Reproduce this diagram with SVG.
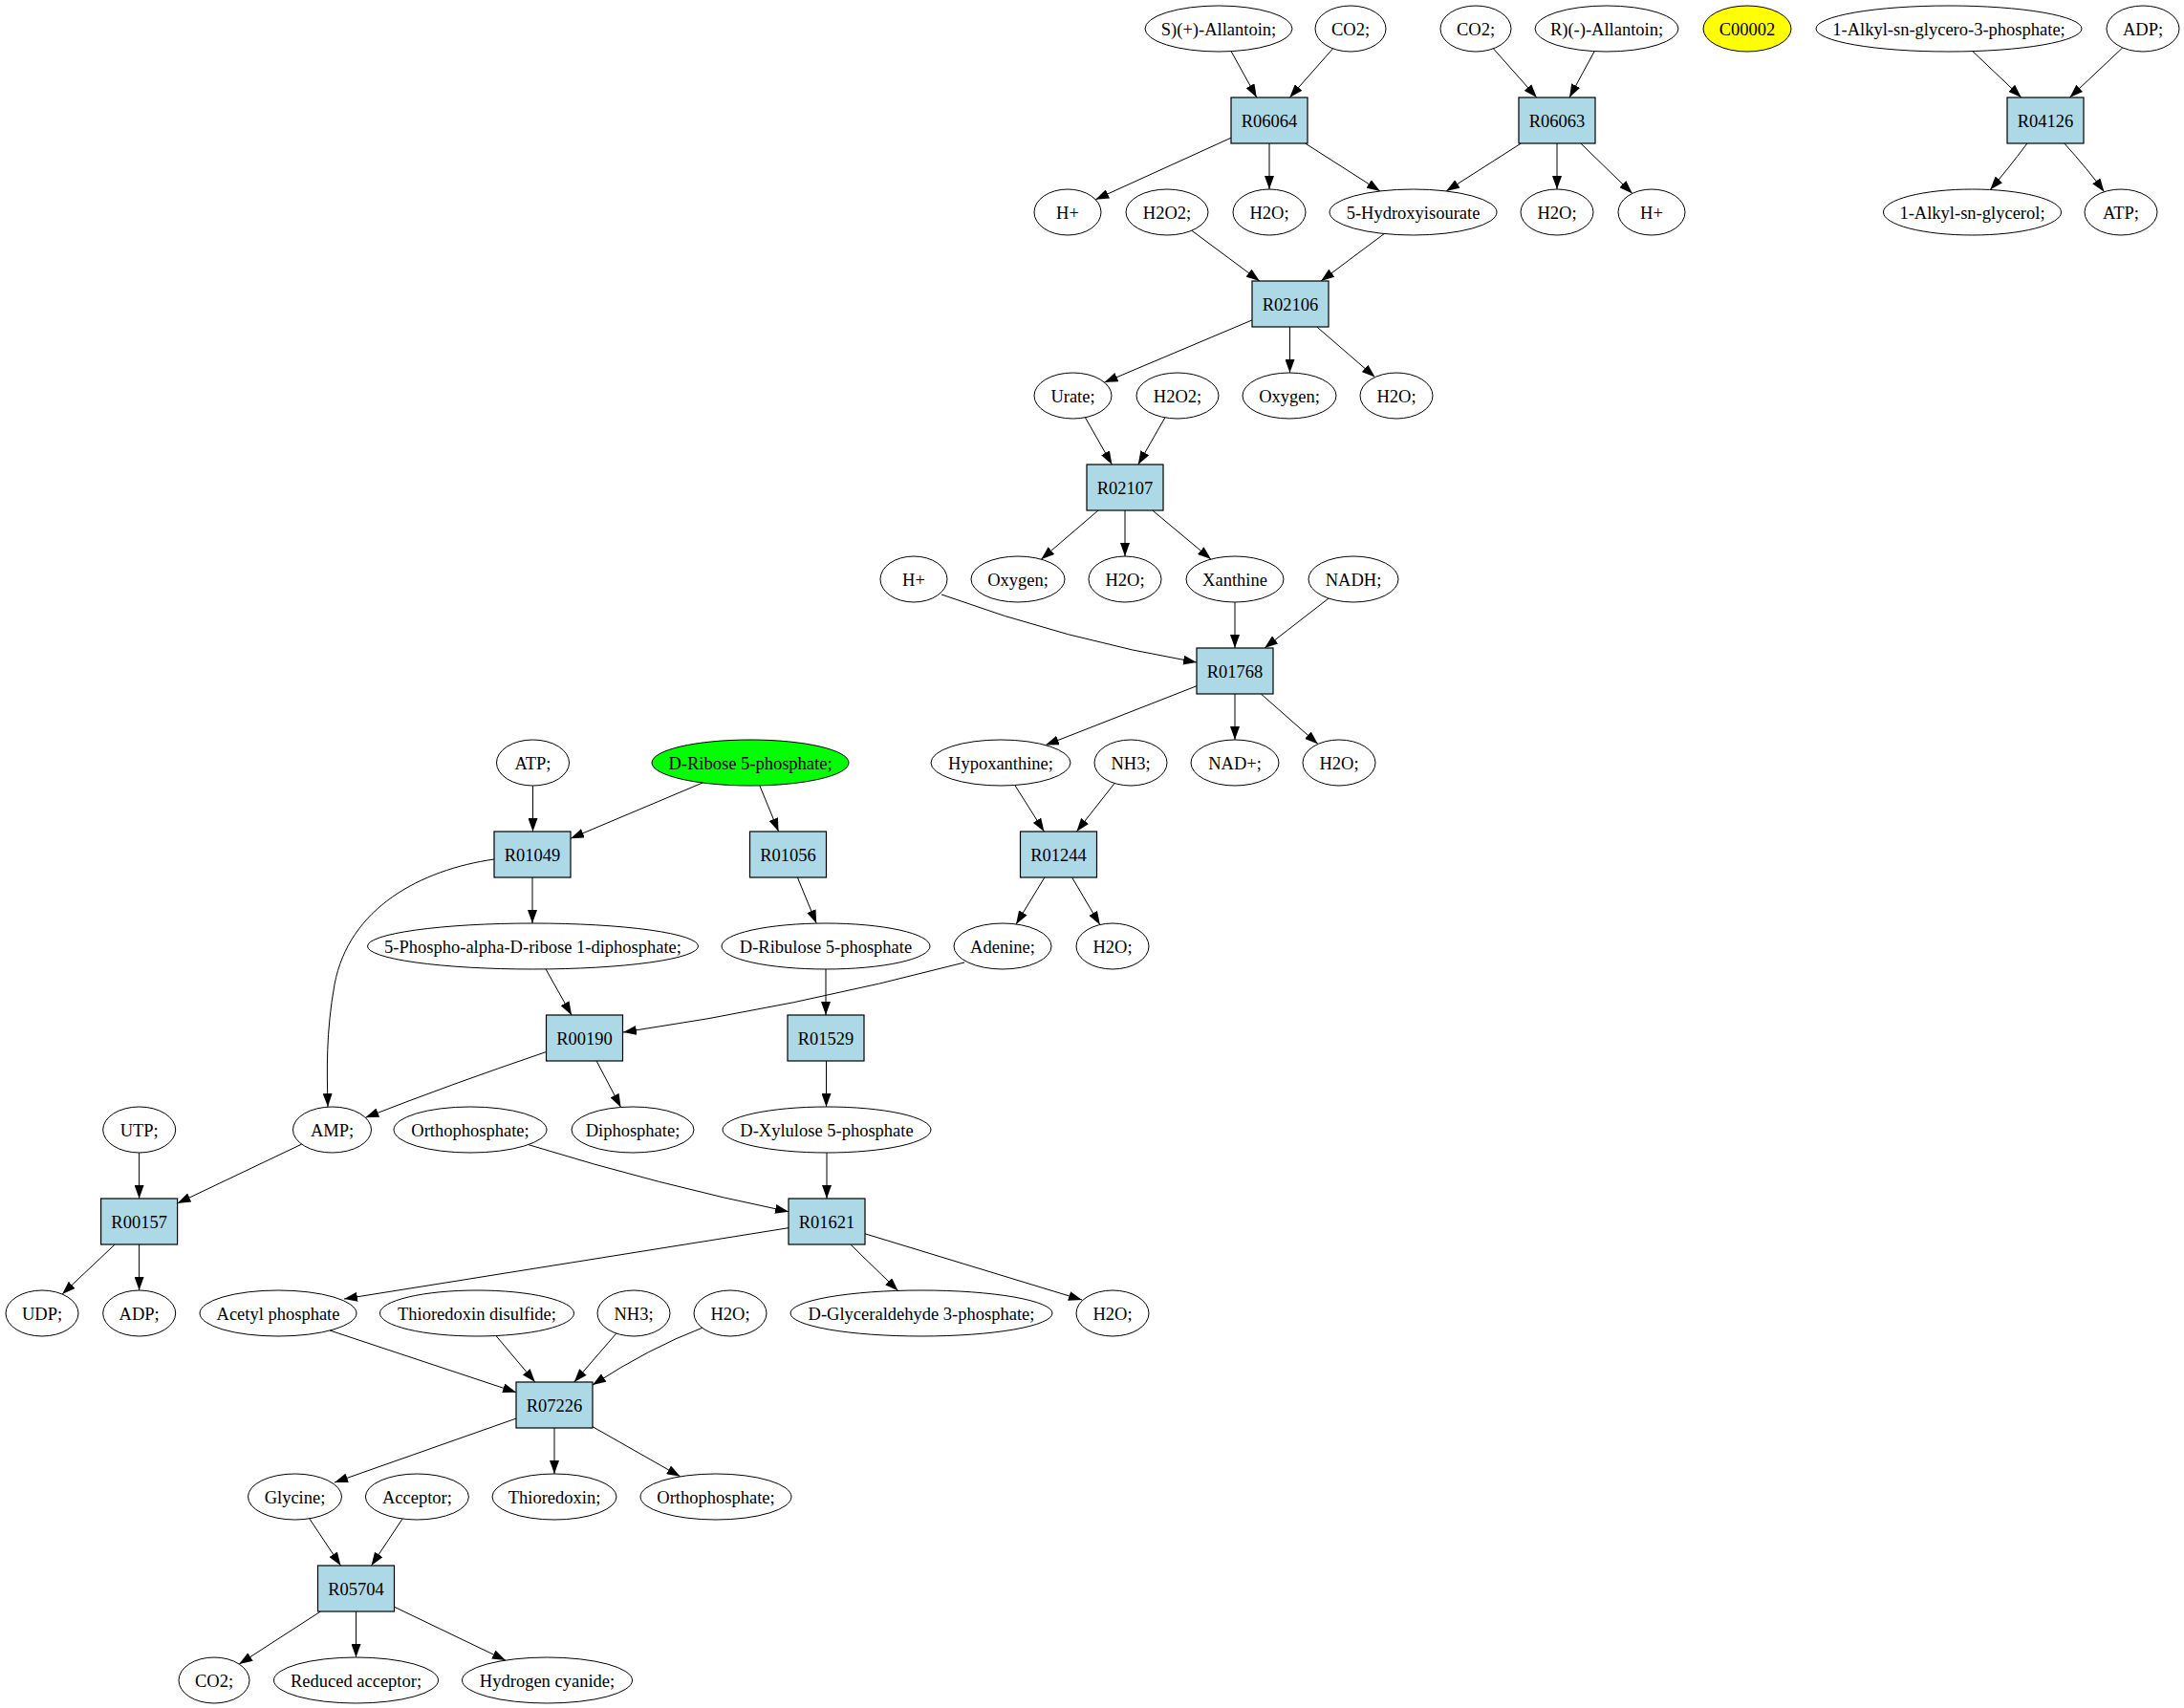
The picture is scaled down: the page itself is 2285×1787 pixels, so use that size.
<svg xmlns="http://www.w3.org/2000/svg" width="2285" height="1787" viewBox="0 0 2285 1787">
<style>
.e ellipse{fill:#fff;stroke:#000;stroke-width:1}
.r rect{fill:#add8e6;stroke:#000;stroke-width:1.2}
text{font-family:"Liberation Serif","Times New Roman",serif;font-size:18.5px;text-anchor:middle;fill:#000}
#edges path{fill:none;stroke:#000;stroke-width:1;marker-end:url(#ah)}
</style>
<defs>
<marker id="ah" markerUnits="userSpaceOnUse" markerWidth="14" markerHeight="10" viewBox="0 0 14 10" refX="14" refY="5" orient="auto"><path d="M0,0 L14,5 L0,10 z" fill="#000"/></marker>
</defs>
<rect width="2285" height="1787" fill="#fff"/>
<g id="edges">
<path d="M1288.1,53.7 L1314.8,102"/>
<path d="M1394.6,50.8 L1349.3,102"/>
<path d="M1562.4,50.8 L1607.8,102"/>
<path d="M1668.2,53.6 L1642,102"/>
<path d="M2063.8,53.6 L2114.8,102"/>
<path d="M2220.8,49.9 L2165.5,102"/>
<path d="M1288,144.2 L1146.2,208.7"/>
<path d="M1328,150 L1328,198"/>
<path d="M1365.6,150 L1443.9,200"/>
<path d="M1591.4,150 L1513.1,200"/>
<path d="M1629,150 L1629,198"/>
<path d="M1653.8,150 L1707.8,202.4"/>
<path d="M2120.9,150 Q2100,178 2082.2,198.5"/>
<path d="M2159.8,150 Q2185,178 2201.5,200.7"/>
<path d="M1246.8,241.2 L1317.8,294"/>
<path d="M1448.3,244.5 L1382.1,294"/>
<path d="M1310,334.9 L1155.5,400.1"/>
<path d="M1349.5,342 L1349.5,390"/>
<path d="M1377.8,342 L1438.6,394.6"/>
<path d="M1135.4,436.8 L1163.4,486"/>
<path d="M1218.9,436.9 L1190.8,486"/>
<path d="M1149,534 L1089.3,585.2"/>
<path d="M1177,534 L1177,582"/>
<path d="M1205.8,534 L1267,585.1"/>
<path d="M985,622 Q1117,670 1252,693"/>
<path d="M1292,630 L1292,678"/>
<path d="M1390.1,626 L1323,678"/>
<path d="M1252,717.7 L1093.9,779.6"/>
<path d="M1292,726 L1292,774"/>
<path d="M1319.3,726 L1378.9,778.5"/>
<path d="M1061.8,821.5 L1092.4,870"/>
<path d="M1166.1,819.5 L1126.4,870"/>
<path d="M1092.9,918 L1063.1,966.9"/>
<path d="M1121.6,918 L1150.8,967.5"/>
<path d="M557.5,822 L557.5,870"/>
<path d="M735.1,819 L597,877.2"/>
<path d="M794.8,821.9 L814.6,870"/>
<path d="M557,918 L557,966"/>
<path d="M517,899 C440,910 365,950 350,1030 C341,1080 342,1120 343,1158"/>
<path d="M571,1013.9 L598,1062"/>
<path d="M1009,1007 Q830,1054 652,1080"/>
<path d="M834.4,918 L854.2,966.1"/>
<path d="M864,1014 L864,1062"/>
<path d="M864.5,1110 L864.5,1158"/>
<path d="M571.5,1100.5 Q470,1135 382.3,1169.3"/>
<path d="M624.1,1110 L649.6,1158.5"/>
<path d="M145.6,1206 L145.6,1254"/>
<path d="M315.7,1197.1 L185.6,1259"/>
<path d="M552.7,1197.6 Q690,1240 825,1267.7"/>
<path d="M865,1206 L865,1254"/>
<path d="M120.2,1302 L65.1,1354"/>
<path d="M145.6,1302 L145.6,1350"/>
<path d="M825,1284.7 L360,1359"/>
<path d="M889.8,1302 L939.6,1350.4"/>
<path d="M905,1290.8 L1132,1360"/>
<path d="M345.2,1392 L540,1456.7"/>
<path d="M518.9,1397.5 L559.8,1446"/>
<path d="M644.8,1395.1 L600.8,1446"/>
<path d="M734.7,1389.3 Q680,1410 620,1449.1"/>
<path d="M540,1484.1 L350,1551"/>
<path d="M580,1494 L580,1542"/>
<path d="M620,1492.7 L711.7,1544.8"/>
<path d="M323.7,1588.8 L356.5,1638"/>
<path d="M421.1,1589 L388.5,1638"/>
<path d="M335.4,1686 L250.2,1741.1"/>
<path d="M372.5,1686 L372.5,1734"/>
<path d="M412.5,1681.2 L528.9,1737.1"/>
</g>
<g id="s_allantoin" class="e"><ellipse cx="1275" cy="30" rx="77" ry="24"/><text x="1275" y="36.5">S)(+)-Allantoin;</text></g>
<g id="co2_a" class="e"><ellipse cx="1413" cy="30" rx="37" ry="24"/><text x="1413" y="36.5">CO2;</text></g>
<g id="co2_b" class="e"><ellipse cx="1544" cy="30" rx="37" ry="24"/><text x="1544" y="36.5">CO2;</text></g>
<g id="r_allantoin" class="e"><ellipse cx="1681" cy="30" rx="75" ry="24"/><text x="1681" y="36.5">R)(-)-Allantoin;</text></g>
<g id="C00002" class="e"><ellipse cx="1828" cy="30" rx="46" ry="24" style="fill:#ffff00"/><text x="1828" y="36.5">C00002</text></g>
<g id="alkyl_gp" class="e"><ellipse cx="2039" cy="30" rx="139" ry="24"/><text x="2039" y="36.5">1-Alkyl-sn-glycero-3-phosphate;</text></g>
<g id="adp_a" class="e"><ellipse cx="2242" cy="30" rx="38" ry="24"/><text x="2242" y="36.5">ADP;</text></g>
<g id="R06064" class="r"><rect x="1288" y="102" width="80" height="48"/><text x="1328" y="132.5">R06064</text></g>
<g id="R06063" class="r"><rect x="1589" y="102" width="80" height="48"/><text x="1629" y="132.5">R06063</text></g>
<g id="R04126" class="r"><rect x="2100" y="102" width="80" height="48"/><text x="2140" y="132.5">R04126</text></g>
<g id="hplus_a" class="e"><ellipse cx="1117" cy="222" rx="35" ry="24"/><text x="1117" y="228.5">H+</text></g>
<g id="h2o2_a" class="e"><ellipse cx="1221" cy="222" rx="43" ry="24"/><text x="1221" y="228.5">H2O2;</text></g>
<g id="h2o_a" class="e"><ellipse cx="1328" cy="222" rx="38" ry="24"/><text x="1328" y="228.5">H2O;</text></g>
<g id="hydroxyisourate" class="e"><ellipse cx="1478.5" cy="222" rx="87.5" ry="24"/><text x="1478.5" y="228.5">5-Hydroxyisourate</text></g>
<g id="h2o_b" class="e"><ellipse cx="1629" cy="222" rx="38" ry="24"/><text x="1629" y="228.5">H2O;</text></g>
<g id="hplus_b" class="e"><ellipse cx="1728" cy="222" rx="35" ry="24"/><text x="1728" y="228.5">H+</text></g>
<g id="alkyl_g" class="e"><ellipse cx="2063.5" cy="222" rx="93" ry="24"/><text x="2063.5" y="228.5">1-Alkyl-sn-glycerol;</text></g>
<g id="atp_a" class="e"><ellipse cx="2219" cy="222" rx="38" ry="24"/><text x="2219" y="228.5">ATP;</text></g>
<g id="R02106" class="r"><rect x="1310" y="294" width="80" height="48"/><text x="1350" y="324.5">R02106</text></g>
<g id="urate" class="e"><ellipse cx="1122.5" cy="414" rx="40.5" ry="24"/><text x="1122.5" y="420.5">Urate;</text></g>
<g id="h2o2_b" class="e"><ellipse cx="1232" cy="414" rx="43" ry="24"/><text x="1232" y="420.5">H2O2;</text></g>
<g id="oxygen_a" class="e"><ellipse cx="1349" cy="414" rx="49" ry="24"/><text x="1349" y="420.5">Oxygen;</text></g>
<g id="h2o_c" class="e"><ellipse cx="1461" cy="414" rx="38" ry="24"/><text x="1461" y="420.5">H2O;</text></g>
<g id="R02107" class="r"><rect x="1137" y="486" width="80" height="48"/><text x="1177" y="516.5">R02107</text></g>
<g id="hplus_c" class="e"><ellipse cx="956" cy="606" rx="35" ry="24"/><text x="956" y="612.5">H+</text></g>
<g id="oxygen_b" class="e"><ellipse cx="1065" cy="606" rx="49" ry="24"/><text x="1065" y="612.5">Oxygen;</text></g>
<g id="h2o_d" class="e"><ellipse cx="1177" cy="606" rx="38" ry="24"/><text x="1177" y="612.5">H2O;</text></g>
<g id="xanthine" class="e"><ellipse cx="1292" cy="606" rx="51" ry="24"/><text x="1292" y="612.5">Xanthine</text></g>
<g id="nadh" class="e"><ellipse cx="1416" cy="606" rx="47" ry="24"/><text x="1416" y="612.5">NADH;</text></g>
<g id="R01768" class="r"><rect x="1252" y="678" width="80" height="48"/><text x="1292" y="708.5">R01768</text></g>
<g id="atp_b" class="e"><ellipse cx="557.5" cy="798" rx="38" ry="24"/><text x="557.5" y="804.5">ATP;</text></g>
<g id="ribose5p" class="e"><ellipse cx="785" cy="798" rx="103" ry="24" style="fill:#00ff00"/><text x="785" y="804.5">D-Ribose 5-phosphate;</text></g>
<g id="hypoxanthine" class="e"><ellipse cx="1047" cy="798" rx="73" ry="24"/><text x="1047" y="804.5">Hypoxanthine;</text></g>
<g id="nh3_a" class="e"><ellipse cx="1183" cy="798" rx="38" ry="24"/><text x="1183" y="804.5">NH3;</text></g>
<g id="nadplus" class="e"><ellipse cx="1292" cy="798" rx="46" ry="24"/><text x="1292" y="804.5">NAD+;</text></g>
<g id="h2o_e" class="e"><ellipse cx="1401" cy="798" rx="38" ry="24"/><text x="1401" y="804.5">H2O;</text></g>
<g id="R01049" class="r"><rect x="517" y="870" width="80" height="48"/><text x="557" y="900.5">R01049</text></g>
<g id="R01056" class="r"><rect x="784.5" y="870" width="80" height="48"/><text x="824.5" y="900.5">R01056</text></g>
<g id="R01244" class="r"><rect x="1067.5" y="870" width="80" height="48"/><text x="1107.5" y="900.5">R01244</text></g>
<g id="prpp" class="e"><ellipse cx="557.5" cy="990" rx="173" ry="24"/><text x="557.5" y="996.5">5-Phospho-alpha-D-ribose 1-diphosphate;</text></g>
<g id="ribulose5p" class="e"><ellipse cx="864" cy="990" rx="109" ry="24"/><text x="864" y="996.5">D-Ribulose 5-phosphate</text></g>
<g id="adenine" class="e"><ellipse cx="1049" cy="990" rx="51" ry="24"/><text x="1049" y="996.5">Adenine;</text></g>
<g id="h2o_f" class="e"><ellipse cx="1164" cy="990" rx="38" ry="24"/><text x="1164" y="996.5">H2O;</text></g>
<g id="R00190" class="r"><rect x="571.5" y="1062" width="80" height="48"/><text x="611.5" y="1092.5">R00190</text></g>
<g id="R01529" class="r"><rect x="824" y="1062" width="80" height="48"/><text x="864" y="1092.5">R01529</text></g>
<g id="utp" class="e"><ellipse cx="145.7" cy="1182" rx="38" ry="24"/><text x="145.7" y="1188.5">UTP;</text></g>
<g id="amp" class="e"><ellipse cx="347.5" cy="1182" rx="41" ry="24"/><text x="347.5" y="1188.5">AMP;</text></g>
<g id="orthop_a" class="e"><ellipse cx="492" cy="1182" rx="80" ry="24"/><text x="492" y="1188.5">Orthophosphate;</text></g>
<g id="diphosphate" class="e"><ellipse cx="662" cy="1182" rx="64" ry="24"/><text x="662" y="1188.5">Diphosphate;</text></g>
<g id="xylulose5p" class="e"><ellipse cx="865" cy="1182" rx="109" ry="24"/><text x="865" y="1188.5">D-Xylulose 5-phosphate</text></g>
<g id="R00157" class="r"><rect x="105.6" y="1254" width="80" height="48"/><text x="145.6" y="1284.5">R00157</text></g>
<g id="R01621" class="r"><rect x="825" y="1254" width="80" height="48"/><text x="865" y="1284.5">R01621</text></g>
<g id="udp" class="e"><ellipse cx="44" cy="1374" rx="38" ry="24"/><text x="44" y="1380.5">UDP;</text></g>
<g id="adp_b" class="e"><ellipse cx="145.7" cy="1374" rx="38" ry="24"/><text x="145.7" y="1380.5">ADP;</text></g>
<g id="acetylp" class="e"><ellipse cx="291" cy="1374" rx="82" ry="24"/><text x="291" y="1380.5">Acetyl phosphate</text></g>
<g id="thioredoxin_ss" class="e"><ellipse cx="499" cy="1374" rx="101.5" ry="24"/><text x="499" y="1380.5">Thioredoxin disulfide;</text></g>
<g id="nh3_b" class="e"><ellipse cx="663" cy="1374" rx="38" ry="24"/><text x="663" y="1380.5">NH3;</text></g>
<g id="h2o_g" class="e"><ellipse cx="764" cy="1374" rx="38" ry="24"/><text x="764" y="1380.5">H2O;</text></g>
<g id="glyceraldehyde3p" class="e"><ellipse cx="964" cy="1374" rx="137" ry="24"/><text x="964" y="1380.5">D-Glyceraldehyde 3-phosphate;</text></g>
<g id="h2o_h" class="e"><ellipse cx="1164" cy="1374" rx="38" ry="24"/><text x="1164" y="1380.5">H2O;</text></g>
<g id="R07226" class="r"><rect x="540" y="1446" width="80" height="48"/><text x="580" y="1476.5">R07226</text></g>
<g id="glycine" class="e"><ellipse cx="308.5" cy="1566" rx="49" ry="24"/><text x="308.5" y="1572.5">Glycine;</text></g>
<g id="acceptor" class="e"><ellipse cx="436.4" cy="1566" rx="54" ry="24"/><text x="436.4" y="1572.5">Acceptor;</text></g>
<g id="thioredoxin" class="e"><ellipse cx="580" cy="1566" rx="65" ry="24"/><text x="580" y="1572.5">Thioredoxin;</text></g>
<g id="orthop_b" class="e"><ellipse cx="749" cy="1566" rx="79" ry="24"/><text x="749" y="1572.5">Orthophosphate;</text></g>
<g id="R05704" class="r"><rect x="332.5" y="1638" width="80" height="48"/><text x="372.5" y="1668.5">R05704</text></g>
<g id="co2_c" class="e"><ellipse cx="224" cy="1758" rx="37" ry="24"/><text x="224" y="1764.5">CO2;</text></g>
<g id="reduced_acceptor" class="e"><ellipse cx="372.5" cy="1758" rx="86" ry="24"/><text x="372.5" y="1764.5">Reduced acceptor;</text></g>
<g id="hcn" class="e"><ellipse cx="572.5" cy="1758" rx="89" ry="24"/><text x="572.5" y="1764.5">Hydrogen cyanide;</text></g>
</svg>
